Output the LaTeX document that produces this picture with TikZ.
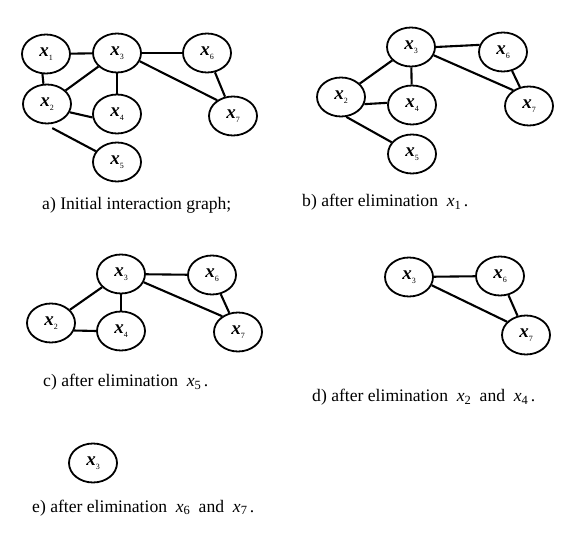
\documentclass[tikz,border=0pt]{standalone}
\usepackage{fontspec}
\setmainfont{Liberation Serif}
\usetikzlibrary{shapes.geometric}
\newcommand\nx[1]{\textbf{\textit{x}}\raisebox{-0.45ex}{\fontsize{8}{8}\selectfont #1}}
\newcommand\cx[1]{\textit{x}\raisebox{-0.35ex}{\fontsize{12.5}{12.5}\selectfont #1}}
\begin{document}
\begin{tikzpicture}[x=1pt,y=-1pt,
  vnode/.style={ellipse,draw,line width=1.8pt,minimum width=48pt,minimum height=39pt,inner sep=0pt,font=\fontsize{19}{19}\selectfont},
  link/.style={line width=2.1pt},
  caption/.style={anchor=base west,inner sep=0pt,font=\fontsize{17.6}{20}\selectfont}]
\useasboundingbox (0,0) rectangle (587,545);
% panel a
\node[vnode] (a1) at (46,54) {\nx{1}};
\node[vnode] (a3) at (117,53) {\nx{3}};
\node[vnode] (a6) at (207,53) {\nx{6}};
\node[vnode] (a2) at (47,104) {\nx{2}};
\node[vnode] (a4) at (117,114) {\nx{4}};
\node[vnode] (a7) at (233,116) {\nx{7}};
\node[vnode] (a5) at (117,162) {\nx{5}};
\draw[link] (a1) -- (a3);
\draw[link] (a1.-100) -- (a2.100);
\draw[link] (a3) -- (a6);
\draw[link] (a3) -- (a2);
\draw[link] (a3) -- (a4);
\draw[link] (a3.-20) -- (a7.135);
\draw[link] (a6) -- (a7);
\draw[link] (a2.-20) -- (a4.188);
\draw[link] ([shift={(1,4)}]a2.-78) -- (a5.153);
\node[caption] (capa) at (42,210) {a) Initial interaction graph;};
% panel b
\node[vnode] (b3) at (411,47) {\nx{3}};
\node[vnode] (b6) at (503,52) {\nx{6}};
\node[vnode] (b2) at (341,97) {\nx{2}};
\node[vnode] (b4) at (412,105) {\nx{4}};
\node[vnode] (b7) at (529,106) {\nx{7}};
\node[vnode] (b5) at (412,154) {\nx{5}};
\draw[link] (b3.east) -- (b6.163);
\draw[link] (b3) -- (b2);
\draw[link] (b3) -- (b4);
\draw[link] (b3.-20) -- (b7.135);
\draw[link] (b6) -- (b7);
\draw[link] (b2.-17) -- (b4.175);
\draw[link] (b2.-75) -- (b5.150);
\node[caption] (capb) at (302,207) {b) after elimination \ \cx{1}\,.};
% panel c
\node[vnode] (c3) at (121,274) {\nx{3}};
\node[vnode] (c6) at (212,275) {\nx{6}};
\node[vnode] (c2) at (51,323) {\nx{2}};
\node[vnode] (c4) at (121,331) {\nx{4}};
\node[vnode] (c7) at (238,332) {\nx{7}};
\draw[link] (c3) -- (c6);
\draw[link] (c3) -- (c2);
\draw[link] (c3) -- (c4);
\draw[link] (c3.-20) -- (c7.135);
\draw[link] (c6) -- (c7);
\draw[link] (c2.-18) -- (c4.west);
\node[caption] (capc) at (43,387) {c) after elimination \ \cx{5}\,.};
% panel d
\node[vnode] (d3) at (409,277) {\nx{3}};
\node[vnode] (d6) at (500,276) {\nx{6}};
\node[vnode] (d7) at (526,335) {\nx{7}};
\draw[link] (d3) -- (d6);
\draw[link] (d3.-20) -- (d7.145);
\draw[link] (d6) -- (d7);
\node[caption] (capd) at (312,402) {d) after elimination \ \cx{2} \ and \ \cx{4}\,.};
% panel e
\node[vnode] (e3) at (93,463) {\nx{3}};
\node[caption] (cape) at (32,512) {e) after elimination \ \cx{6} \ and \ \cx{7}\,.};
\end{tikzpicture}
\end{document}
